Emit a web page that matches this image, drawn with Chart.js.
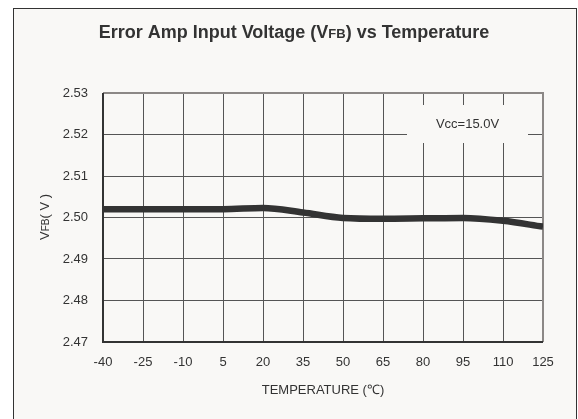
<!DOCTYPE html>
<html>
<head>
<meta charset="utf-8">
<script src="https://cdn.jsdelivr.net/npm/chart.js@4"></script>
<style>
  html, body { margin: 0; padding: 0; background: #ffffff; }
  #wrap { width: 578px; height: 419px; }
</style>
</head>
<body>
<div id="wrap"><canvas id="vfbChart" width="578" height="419"></canvas></div>
<script>
// temperature (C) and measured VFB (V)
const temps = [-40, -25, -10, 5, 20, 35, 50, 65, 80, 95, 110, 125];
const vfb = [2.502, 2.502, 2.502, 2.502, 2.5023, 2.5012, 2.4999, 2.4997, 2.4998, 2.4999, 2.4992, 2.4978];
const xTicks = [-40, -25, -10, 5, 20, 35, 50, 65, 80, 95, 110, 125];
const yTicks = [2.47, 2.48, 2.49, 2.50, 2.51, 2.52, 2.53];
const noteText = 'Vcc=15.0V';

const FONT = "'Liberation Sans', Arial, sans-serif";

// draw text pieces with a smaller "subscript-cap" run, e.g. V + FB
function drawRuns(ctx, runs, x, y) {
    let total = 0;
    runs.forEach(r => { ctx.font = r.font; total += ctx.measureText(r.text).width; });
    let cx = x - total / 2;
    runs.forEach(r => {
        ctx.font = r.font;
        ctx.fillText(r.text, cx, y);
        cx += ctx.measureText(r.text).width;
    });
}

const decor = {
    id: 'decor',
    beforeDraw(chart) {
        const ctx = chart.ctx;
        ctx.save();
        ctx.fillStyle = '#ffffff';
        ctx.fillRect(0, 0, chart.width, chart.height);
        ctx.fillStyle = '#f9f8f6';
        ctx.fillRect(13.5, 8.5, 563, 420);
        ctx.strokeStyle = '#333';
        ctx.lineWidth = 1;
        ctx.strokeRect(13.5, 8.5, 563, 420);

        ctx.fillStyle = '#333';
        ctx.textBaseline = 'alphabetic';
        ctx.textAlign = 'left';
        drawRuns(ctx, [
            { text: 'Error Amp Input Voltage (V', font: 'bold 18px ' + FONT },
            { text: 'FB', font: 'bold 13px ' + FONT },
            { text: ') vs Temperature', font: 'bold 18px ' + FONT }
        ], 294, 38);

        // x axis title
        const a = chart.chartArea;
        drawRuns(ctx, [
            { text: 'TEMPERATURE (', font: '13px ' + FONT },
            { text: '\u2103', font: '13px ' + FONT },
            { text: ')', font: '13px ' + FONT }
        ], (a.left + a.right) / 2, 394);

        // y axis title
        ctx.translate(49, 217);
        ctx.rotate(-Math.PI / 2);
        drawRuns(ctx, [
            { text: 'V', font: '13px ' + FONT },
            { text: 'FB', font: '10px ' + FONT },
            { text: '( V )', font: '13px ' + FONT }
        ], 0, 0);
        ctx.restore();
    },
    beforeDatasetsDraw(chart) {
        const ctx = chart.ctx;
        const a = chart.chartArea;
        ctx.save();
        // plot frame
        ctx.lineWidth = 2;
        ctx.strokeStyle = '#8c8886';
        ctx.beginPath();
        ctx.moveTo(a.left, a.top); ctx.lineTo(a.right, a.top); ctx.lineTo(a.right, a.bottom);
        ctx.stroke();
        ctx.strokeStyle = '#333';
        ctx.beginPath();
        ctx.moveTo(a.left, a.top); ctx.lineTo(a.left, a.bottom); ctx.lineTo(a.right, a.bottom);
        ctx.stroke();
        // note box
        const bx = 407, by = 105, bw = 121, bh = 38;
        ctx.fillStyle = '#f9f8f6';
        ctx.fillRect(bx, by, bw, bh);
        ctx.fillStyle = '#333';
        ctx.font = '13px ' + FONT;
        ctx.textAlign = 'center';
        ctx.textBaseline = 'middle';
        ctx.fillText(noteText, bx + bw / 2, by + bh / 2);
        ctx.restore();
    }
};

const ctx = document.getElementById('vfbChart').getContext('2d');
const chart = new Chart(ctx, {
    type: 'line',
    data: {
        datasets: [{
            label: 'VFB',
            data: temps.map((t, i) => ({ x: t, y: vfb[i] })),
            borderColor: '#333333',
            borderWidth: 6.5,
            pointRadius: 0,
            cubicInterpolationMode: 'monotone',
            fill: false
        }]
    },
    options: {
        responsive: false,
        animation: false,
        devicePixelRatio: 1,
        layout: { padding: { left: 0, right: 35, top: 93, bottom: 0 } },
        plugins: {
            legend: { display: false },
            title: { display: false },
            tooltip: { enabled: false }
        },
        scales: {
            x: {
                type: 'linear',
                min: -40,
                max: 125,
                afterBuildTicks: (scale) => { scale.ticks = xTicks.map(v => ({ value: v })); },
                afterFit: (scale) => { scale.height = 77; },
                grid: { color: '#555', lineWidth: 1, drawTicks: false },
                border: { display: false },
                ticks: {
                    color: '#333',
                    padding: 13,
                    maxRotation: 0,
                    autoSkip: false,
                    font: { family: FONT, size: 13 }
                }
            },
            y: {
                min: 2.47,
                max: 2.53,
                afterBuildTicks: (scale) => { scale.ticks = yTicks.map(v => ({ value: v })); },
                afterFit: (scale) => { scale.width = 103; },
                grid: { color: '#555', lineWidth: 1, drawTicks: false },
                border: { display: false },
                ticks: {
                    color: '#333',
                    padding: 15,
                    font: { family: FONT, size: 13 },
                    callback: (v) => v.toFixed(2)
                }
            }
        }
    },
    plugins: [decor]
});
</script>
</body>
</html>
